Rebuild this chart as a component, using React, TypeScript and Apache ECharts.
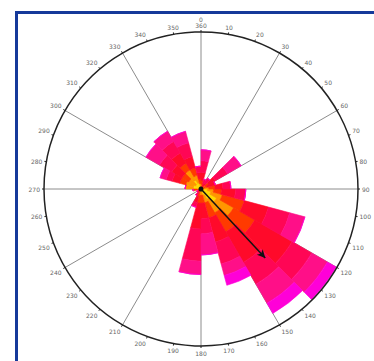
import React, { useEffect, useRef } from 'react';
import * as echarts from 'echarts';

// Direction bins (start bearing, 15° wide), clockwise from north
const binStarts = [0, 15, 30, 45, 60, 75, 90, 105, 120, 135, 150, 165, 180, 195, 210, 225, 240, 255, 270, 285, 300, 315, 330, 345];

// Stacked class values for each bin (innermost class first)
const classYellow =  [0.3, 0, 0, 0.3, 0, 0.4, 0.8, 1.3, 2.3, 1.5, 0.8, 0.3, 0.3, 0, 0, 0, 0, 0, 1.0, 1.0, 0.8, 1.3, 0.8, 0.3];
const classOrange =  [0.3, 0, 0, 0.3, 0, 0.6, 0.8, 1.5, 2.5, 2.0, 1.0, 0.5, 0.5, 0.5, 0, 0, 0, 0.5, 1.0, 1.0, 1.0, 1.5, 1.0, 0.4];
const classRedOr =   [0.5, 0, 0, 0.5, 0.8, 0.8, 1.0, 2.9, 3.1, 2.8, 2.0, 1.0, 1.0, 0.5, 0, 0, 0, 0.5, 0, 0.8, 1.0, 1.0, 1.0, 0.6];
const classRed =     [1.0, 0.8, 0.8, 1.0, 1.1, 1.0, 1.8, 3.2, 5.5, 4.5, 3.2, 2.0, 3.3, 0.8, 0.6, 0.6, 0.5, 0, 0, 1.0, 1.5, 1.5, 1.5, 0.8];
const classCrimson = [1.5, 0.5, 0.8, 1.8, 0, 1.0, 1.3, 2.8, 2.9, 3.2, 2.9, 1.9, 4.1, 0.6, 0.4, 0, 0, 0, 0, 0.8, 1.8, 1.7, 1.8, 0.8];
const classPink =    [1.4, 0, 0, 2.0, 0, 0, 0, 2.0, 2.3, 2.8, 1.5, 2.7, 1.7, 0, 0, 0, 0, 0, 0, 0.8, 2.0, 1.5, 1.5, 0];
const classMagenta = [0, 0, 0, 0, 0, 0, 0, 0, 1.3, 1.5, 1.3, 0, 0, 0, 0, 0, 0, 0, 0, 0, 0, 0, 0, 0];

const classSeries = [
  { name: 'c1', data: classYellow, color: '#ffdc00' },
  { name: 'c2', data: classOrange, color: '#ff9600' },
  { name: 'c3', data: classRedOr, color: '#ff3a00' },
  { name: 'c4', data: classRed, color: '#ff0a2a' },
  { name: 'c5', data: classCrimson, color: '#ff0655' },
  { name: 'c6', data: classPink, color: '#ff0f88' },
  { name: 'c7', data: classMagenta, color: '#ff00d8' },
];

// Mean direction arrow
const arrowBearing = 137;
const arrowLength = 12;

const radiusMax = 20;

export default function App() {
  const ref = useRef<HTMLDivElement>(null);
  useEffect(() => {
    const chart = echarts.init(ref.current!, null, { renderer: 'svg' });
    const center = [201, 189];
    const radius = 157;
    const hiddenRadius = (i: number) => ({
      polarIndex: i,
      type: 'value',
      min: 0,
      max: radiusMax,
      axisLine: { show: false },
      axisTick: { show: false },
      axisLabel: { show: false },
      splitLine: { show: false },
      splitArea: { show: false },
    });
    chart.setOption({
      animation: false,
      polar: [
        { center, radius },
        { center, radius },
        { center, radius },
      ],
      angleAxis: [
        {
          polarIndex: 0,
          type: 'category',
          data: binStarts.map(String),
          startAngle: 90,
          clockwise: true,
          boundaryGap: true,
          axisLine: { show: false },
          axisTick: { show: false },
          axisLabel: { show: false },
          splitLine: { show: false },
        },
        {
          polarIndex: 1,
          type: 'value',
          min: 0,
          max: 360,
          interval: 10,
          startAngle: 90,
          clockwise: true,
          z: 3,
          axisLine: { lineStyle: { color: '#222', width: 1.5 } },
          axisTick: { length: 2, lineStyle: { color: '#222' } },
          axisLabel: {
            fontSize: 6,
            color: '#666',
            margin: 4,
            fontFamily: 'DejaVu Sans',
            formatter: (v: number) => (v === 0 ? '0\n360' : v === 360 ? '' : String(v)),
          },
          splitLine: { show: false },
        },
        {
          polarIndex: 2,
          type: 'value',
          min: 0,
          max: 360,
          interval: 30,
          startAngle: 90,
          clockwise: true,
          z: 0,
          axisLine: { show: false },
          axisTick: { show: false },
          axisLabel: { show: false },
          splitLine: { show: true, lineStyle: { color: '#8c8c8c', width: 1 } },
        },
      ],
      radiusAxis: [hiddenRadius(0), hiddenRadius(1), hiddenRadius(2)],
      series: [
        ...classSeries.map((s) => ({
          type: 'bar',
          name: s.name,
          coordinateSystem: 'polar',
          polarIndex: 0,
          stack: 'rose',
          data: s.data,
          barCategoryGap: '0%',
          itemStyle: { color: s.color, borderColor: s.color, borderWidth: 0.6 },
          z: 2,
        })),
        {
          type: 'line',
          coordinateSystem: 'polar',
          polarIndex: 1,
          z: 5,
          lineStyle: { color: '#111', width: 1.5 },
          itemStyle: { color: '#111' },
          data: [
            { value: [0, arrowBearing], symbol: 'circle', symbolSize: 5 },
            { value: [arrowLength, arrowBearing], symbol: 'arrow', symbolSize: [6, 8], symbolRotate: -arrowBearing },
          ],
        },
      ],
    });
    return () => chart.dispose();
  }, []);
  return (
    <div style={{ position: 'fixed', left: 0, top: 0, width: 374, height: 361, overflow: 'hidden', background: '#fff' }}>
      <div
        style={{
          position: 'absolute',
          left: 15,
          top: 11,
          width: 420,
          height: 420,
          borderLeft: '3px solid #15399a',
          borderTop: '3px solid #15399a',
        }}
      />
      <div ref={ref} style={{ position: 'absolute', left: 0, top: 0, width: 374, height: 361 }} />
    </div>
  );
}
